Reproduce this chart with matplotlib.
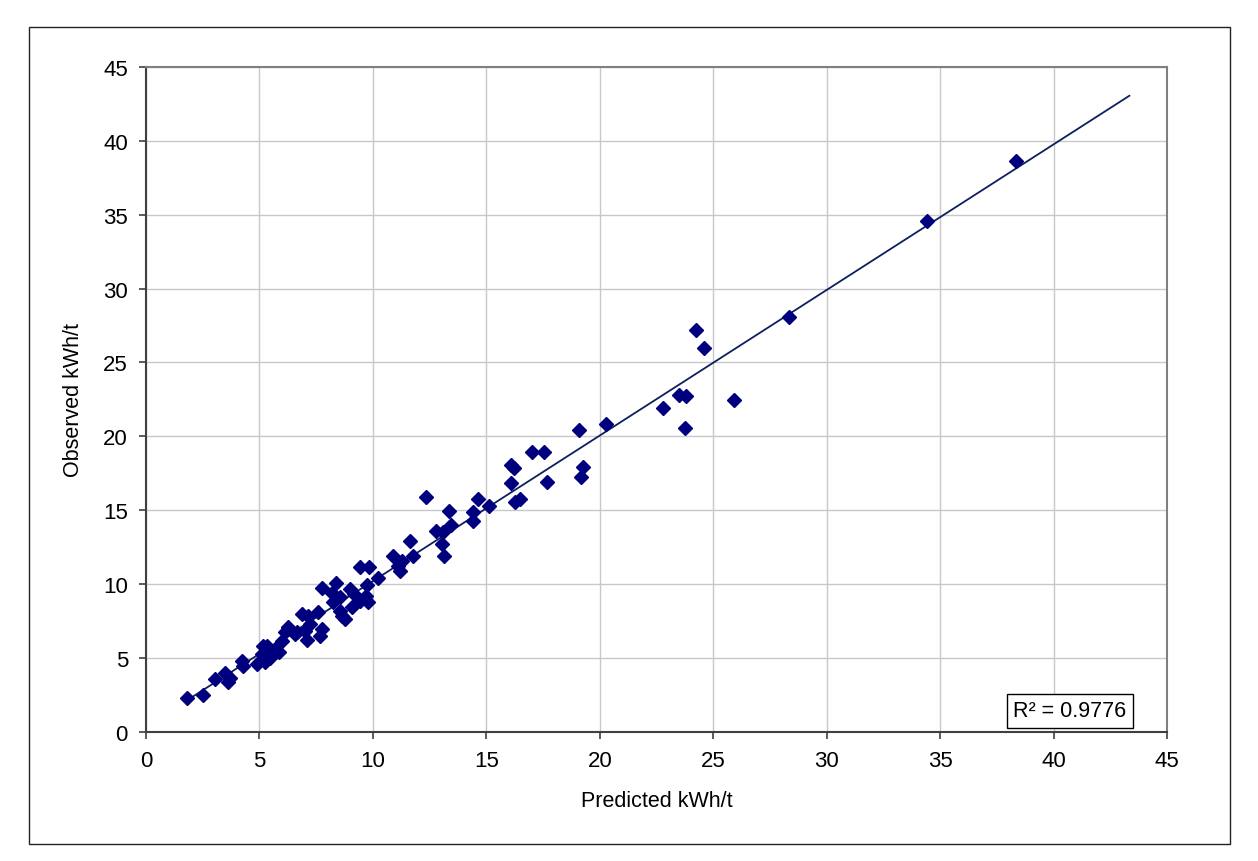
import numpy as np
import matplotlib
matplotlib.use("Agg")
import matplotlib.pyplot as plt
from matplotlib.patches import Rectangle

plt.rcParams['font.family'] = ['Liberation Sans', 'DejaVu Sans']

predicted = [1.82, 2.50, 3.04, 3.48, 3.63, 3.72, 4.21, 4.29, 4.88, 5.12, 5.17, 5.24,
             5.32, 5.40, 5.45, 5.55, 5.61, 5.61, 5.68, 5.85, 5.98, 6.12, 6.27, 6.27,
             6.56, 6.64, 6.86, 7.00, 7.08, 7.15, 7.22, 7.59, 7.67, 7.74, 7.74, 8.18,
             8.22, 8.37, 8.55, 8.55, 8.77, 8.65, 9.01, 9.06, 9.16, 9.43, 9.43, 9.69,
             9.72, 9.80, 9.84, 10.23, 10.90, 11.11, 11.19, 11.26, 11.63, 11.78, 12.35,
             12.80, 13.04, 13.07, 13.14, 13.35, 13.44, 14.39, 14.42, 14.65, 15.10,
             16.08, 16.10, 16.21, 16.26, 16.48, 17.02, 17.52, 17.67, 19.09, 19.18,
             19.24, 20.26, 22.78, 23.50, 23.79, 23.77, 24.23, 24.58, 25.92, 28.34,
             34.43, 38.34]
observed = [2.25, 2.47, 3.55, 3.95, 3.33, 3.62, 4.79, 4.46, 4.57, 5.25, 5.81, 4.68,
            5.81, 5.50, 4.95, 5.15, 5.25, 5.47, 5.58, 5.40, 6.15, 6.72, 7.05, 6.94,
            6.60, 6.72, 7.96, 6.83, 6.22, 7.84, 7.28, 8.11, 6.49, 6.94, 9.69, 9.38,
            8.75, 10.05, 9.08, 8.18, 7.62, 7.85, 9.65, 8.41, 9.31, 8.86, 11.12, 9.20,
            9.92, 8.75, 11.12, 10.37, 11.86, 11.19, 10.89, 11.57, 12.92, 11.90, 15.86,
            13.60, 12.70, 13.48, 11.90, 14.95, 14.00, 14.84, 14.23, 15.74, 15.25,
            18.06, 16.80, 17.84, 15.52, 15.74, 18.94, 18.94, 16.87, 20.45, 17.25,
            17.93, 20.84, 21.90, 22.78, 22.69, 20.55, 27.20, 25.94, 22.44, 28.04,
            34.54, 38.65]
ticks = [0, 5, 10, 15, 20, 25, 30, 35, 40, 45]
r2_label = "R² = 0.9776"
forward_forecast = 5.0

fig = plt.figure(figsize=(12.58, 8.62), dpi=100)
fig.patch.set_facecolor('white')
fig.patches.append(Rectangle((0.0231, 0.0197), 0.9546, 0.9482, transform=fig.transFigure,
                             fill=False, edgecolor='#222222', linewidth=1.0))

ax = fig.add_axes([0.1161, 0.1502, 0.8116, 0.7709])
ax.set_xlim(0, 45)
ax.set_ylim(0, 45)
ax.set_xticks(ticks)
ax.set_yticks(ticks)
ax.grid(True, color='#c8c8c8', linewidth=1.0)
ax.set_axisbelow(True)

x = np.array(predicted)
y = np.array(observed)
slope, intercept = np.polyfit(x, y, 1)
xl = np.array([x.min(), x.max() + forward_forecast])
ax.plot(xl, slope * xl + intercept, color='#0d1f5c', linewidth=1.3, zorder=2)
ax.plot(x, y, linestyle='none', marker='D', markersize=7, color='#00007f',
        markeredgecolor='#00007f', zorder=3)

for side in ['top', 'right']:
    ax.spines[side].set_color('#808080')
    ax.spines[side].set_linewidth(1.5)
for side in ['left', 'bottom']:
    ax.spines[side].set_color('#404040')
    ax.spines[side].set_linewidth(1.5)
ax.tick_params(axis='both', direction='out', length=5, width=1.2, color='#404040',
               labelsize=16, pad=8)
ax.set_xlabel('Predicted kWh/t', fontsize=15.5, labelpad=14)
ax.set_ylabel('Observed kWh/t', fontsize=15.5, labelpad=14)

ax.text(0.905, 0.031, r2_label, transform=ax.transAxes, fontsize=15.5,
        ha='center', va='center',
        bbox=dict(boxstyle='square,pad=0.3', facecolor='white', edgecolor='black',
                  linewidth=1.0))

fig.savefig('out.png', dpi=100)
